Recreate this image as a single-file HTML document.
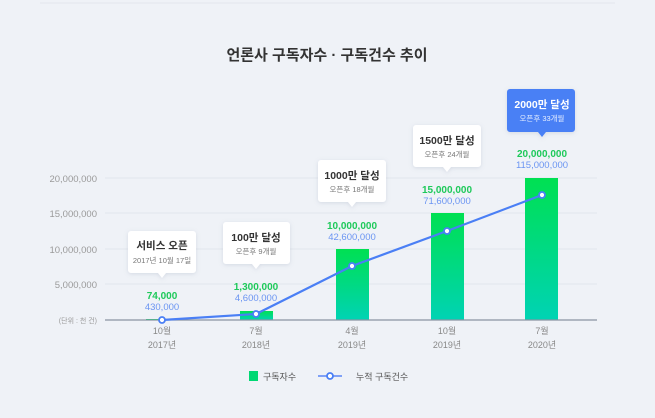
<!DOCTYPE html>
<html><head><meta charset="utf-8"><style>
html,body{margin:0;padding:0;background:#eff2f7;}
svg{display:block;font-family:"Liberation Sans","Noto Sans CJK KR",sans-serif;}
</style></head><body>
<svg width="655" height="418" viewBox="0 0 655 418" xmlns="http://www.w3.org/2000/svg">
<defs>
<linearGradient id="g" x1="0" y1="0" x2="0" y2="1"><stop offset="0" stop-color="#00e052"/><stop offset="1" stop-color="#00d3b4"/></linearGradient>
<filter id="sh" x="-20%" y="-20%" width="140%" height="150%"><feDropShadow dx="0" dy="1" stdDeviation="2" flood-color="#8090a8" flood-opacity="0.25"/></filter>
</defs>
<rect width="655" height="418" fill="#eff2f7"/>
<line x1="40" y1="3" x2="615" y2="3" stroke="#e3e7ee"/>
<text x="327" y="60" text-anchor="middle" font-size="15" font-weight="bold" fill="#333">언론사 구독자수 · 구독건수 추이</text>
<g stroke="#e2e6ed" stroke-width="1">
<line x1="105" y1="178" x2="597" y2="178"/><line x1="105" y1="213" x2="597" y2="213"/>
<line x1="105" y1="249" x2="597" y2="249"/><line x1="105" y1="284" x2="597" y2="284"/>
</g>
<g font-size="9.5" fill="#9a9a9a" text-anchor="end">
<text x="97" y="182">20,000,000</text><text x="97" y="217">15,000,000</text>
<text x="97" y="253">10,000,000</text><text x="97" y="288">5,000,000</text>
<text x="97" y="323" font-size="7">(단위 : 천 건)</text>
</g>
<rect x="146" y="319" width="33" height="1" fill="url(#g)"/>
<rect x="240" y="311" width="33" height="9" fill="url(#g)"/>
<rect x="336" y="249" width="33" height="71" fill="url(#g)"/>
<rect x="431" y="213" width="33" height="107" fill="url(#g)"/>
<rect x="525" y="178" width="33" height="142" fill="url(#g)"/>
<line x1="105" y1="320" x2="597" y2="320" stroke="#8a94a3" stroke-width="1.2"/>
<polyline points="162,320 256,314 352,266 447,231 542,195" fill="none" stroke="#4a7ff5" stroke-width="2.2"/>
<g fill="#fff" stroke="#4a7ff5" stroke-width="1.8">
<circle cx="162" cy="320" r="3"/><circle cx="256" cy="314" r="3"/><circle cx="352" cy="266" r="3"/><circle cx="447" cy="231" r="3"/><circle cx="542" cy="195" r="3"/>
</g>
<g font-size="9" fill="#888" text-anchor="middle">
<text x="162" y="334">10월</text><text x="162" y="348">2017년</text>
<text x="256" y="334">7월</text><text x="256" y="348">2018년</text>
<text x="352" y="334">4월</text><text x="352" y="348">2019년</text>
<text x="447" y="334">10월</text><text x="447" y="348">2019년</text>
<text x="542" y="334">7월</text><text x="542" y="348">2020년</text>
</g>
<g text-anchor="middle">
<text x="162" y="299" font-size="10" font-weight="bold" fill="#1ec95a">74,000</text>
<text x="162" y="310" font-size="9.5" fill="#6b95f2">430,000</text>
<text x="256" y="290" font-size="10" font-weight="bold" fill="#1ec95a">1,300,000</text>
<text x="256" y="301" font-size="9.5" fill="#6b95f2">4,600,000</text>
<text x="352" y="229" font-size="10" font-weight="bold" fill="#1ec95a">10,000,000</text>
<text x="352" y="240" font-size="9.5" fill="#6b95f2">42,600,000</text>
<text x="447" y="193" font-size="10" font-weight="bold" fill="#1ec95a">15,000,000</text>
<text x="447" y="204" font-size="9.5" fill="#6b95f2">71,600,000</text>
<text x="542" y="157" font-size="10" font-weight="bold" fill="#1ec95a">20,000,000</text>
<text x="542" y="168" font-size="9.5" fill="#6b95f2">115,000,000</text>
</g>
<g filter="url(#sh)">
<path d="M131,231h62a3,3 0 0 1 3,3v36a3,3 0 0 1 -3,3h-27l-4,5l-4,-5h-27a3,3 0 0 1 -3,-3v-36a3,3 0 0 1 3,-3z" fill="#fff"/>
<path d="M226,222h61a3,3 0 0 1 3,3v36a3,3 0 0 1 -3,3h-27l-4,5l-4,-5h-26a3,3 0 0 1 -3,-3v-36a3,3 0 0 1 3,-3z" fill="#fff"/>
<path d="M321,160h62a3,3 0 0 1 3,3v36a3,3 0 0 1 -3,3h-27l-4,5l-4,-5h-27a3,3 0 0 1 -3,-3v-36a3,3 0 0 1 3,-3z" fill="#fff"/>
<path d="M416,125h62a3,3 0 0 1 3,3v36a3,3 0 0 1 -3,3h-27l-4,5l-4,-5h-27a3,3 0 0 1 -3,-3v-36a3,3 0 0 1 3,-3z" fill="#fff"/>
<path d="M510,89h62a3,3 0 0 1 3,3v37a3,3 0 0 1 -3,3h-26l-4,5l-4,-5h-28a3,3 0 0 1 -3,-3v-37a3,3 0 0 1 3,-3z" fill="#4a80f5"/>
</g>
<g text-anchor="middle">
<text x="162" y="249" font-size="10.5" font-weight="bold" fill="#333">서비스 오픈</text>
<text x="162" y="263" font-size="7.5" fill="#777">2017년 10월 17일</text>
<text x="256" y="241" font-size="10.5" font-weight="bold" fill="#333">100만 달성</text>
<text x="256" y="254" font-size="7.5" fill="#777">오픈후 9개월</text>
<text x="352" y="179" font-size="10.5" font-weight="bold" fill="#333">1000만 달성</text>
<text x="352" y="192" font-size="7.5" fill="#777">오픈후 18개월</text>
<text x="447" y="144" font-size="10.5" font-weight="bold" fill="#333">1500만 달성</text>
<text x="447" y="157" font-size="7.5" fill="#777">오픈후 24개월</text>
<text x="542" y="108" font-size="10.5" font-weight="bold" fill="#fff">2000만 달성</text>
<text x="542" y="121" font-size="7.5" fill="#e8efff">오픈후 33개월</text>
</g>
<rect x="249" y="371" width="9" height="10" fill="#00d873"/>
<text x="263" y="380" font-size="9" fill="#555">구독자수</text>
<line x1="318" y1="376" x2="342" y2="376" stroke="#5b86f5" stroke-width="1.6"/>
<circle cx="330" cy="376" r="3" fill="#fff" stroke="#4a7ff5" stroke-width="1.8"/>
<text x="356" y="380" font-size="9" fill="#555">누적 구독건수</text>
</svg>
</body></html>
